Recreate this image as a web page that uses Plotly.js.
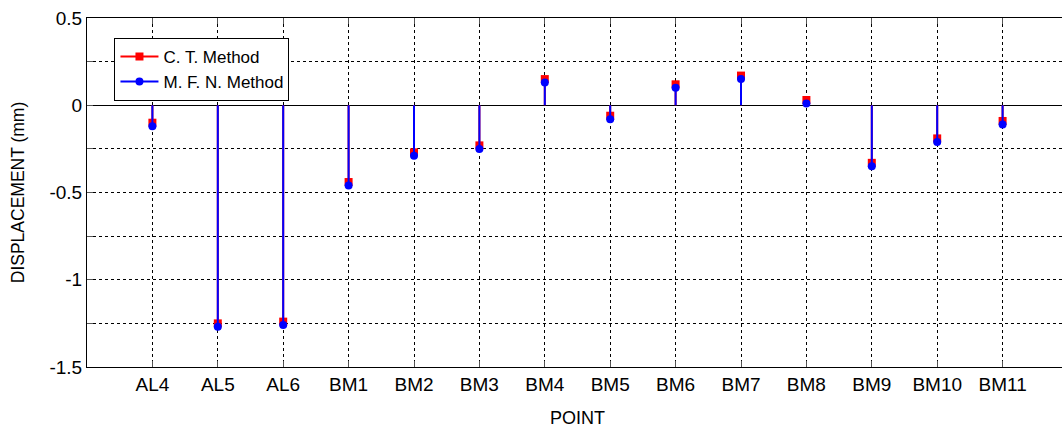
<!DOCTYPE html>
<html>
<head>
<meta charset="utf-8">
<script src="https://cdn.plot.ly/plotly-3.0.1.min.js"></script>
<style>
html,body{margin:0;padding:0;overflow:hidden;background:#fff;}
#chart{width:1072px;height:428px;}
</style>
</head>
<body>
<div id="chart"></div>
<script>
const points = ["AL4","AL5","AL6","BM1","BM2","BM3","BM4","BM5","BM6","BM7","BM8","BM9","BM10","BM11"];
const ctMethod = [-0.10,-1.25,-1.24,-0.44,-0.27,-0.23,0.15,-0.06,0.12,0.17,0.03,-0.33,-0.19,-0.09];
const mfnMethod = [-0.12,-1.27,-1.26,-0.46,-0.29,-0.25,0.13,-0.08,0.10,0.15,0.01,-0.35,-0.21,-0.11];
const seriesNames = ["C. T. Method","M. F. N. Method"];

const xs = points.map((p,i)=>i+1);

function stemXY(vals){
  const x=[], y=[];
  vals.forEach((v,i)=>{ x.push(xs[i],xs[i],null); y.push(0,v,null); });
  return {x,y};
}

const s1 = stemXY(ctMethod), s2 = stemXY(mfnMethod);
const red = '#ff0000', blue = '#0000ff';

const traces = [
  {x:s1.x,y:s1.y,mode:'lines',line:{color:red,width:2},showlegend:false,hoverinfo:'skip'},
  {x:xs,y:ctMethod,mode:'markers',marker:{symbol:'square',size:8,color:red},showlegend:false},
  {x:s2.x,y:s2.y,mode:'lines',line:{color:blue,width:2},showlegend:false,hoverinfo:'skip'},
  {x:xs,y:mfnMethod,mode:'markers',marker:{symbol:'circle',size:8,color:blue},showlegend:false},
  {x:[null],y:[null],mode:'lines+markers',name:seriesNames[0],line:{color:red,width:2},marker:{symbol:'square',size:8,color:red}},
  {x:[null],y:[null],mode:'lines+markers',name:seriesNames[1],line:{color:blue,width:2},marker:{symbol:'circle',size:8,color:blue}}
];

const layout = {
  width:1072, height:428,
  margin:{l:87,r:4,t:18,b:61},
  paper_bgcolor:'#fff', plot_bgcolor:'#fff',
  font:{family:'Liberation Sans, Arial, sans-serif',color:'#000'},
  showlegend:true,
  legend:{x:0.028,y:0.943,xanchor:'left',yanchor:'top',bgcolor:'#fff',bordercolor:'#000',borderwidth:1,
          font:{size:17,color:'#000'},tracegroupgap:0,itemwidth:38},
  xaxis:{
    range:[0,15], tickmode:'array', tickvals:xs, ticktext:points,
    showgrid:true, gridcolor:'#000', griddash:'3px,3px', gridwidth:1,
    showline:true, linecolor:'#000', linewidth:1, mirror:'ticks',
    ticks:'inside', ticklen:6, tickcolor:'#555', tickfont:{size:19,color:'#000'},
    zeroline:false,
    title:{text:'POINT',font:{size:18,color:'#000'},standoff:18}
  },
  yaxis:{
    range:[-1.5,0.5], tickmode:'array', tickvals:[-1.5,-1,-0.5,0,0.5], ticktext:['-1.5','-1','-0.5','0','0.5'],
    showgrid:true, gridcolor:'#000', griddash:'3px,3px', gridwidth:1,
    minor:{tickmode:'array',tickvals:[-1.25,-0.75,-0.25,0.25],showgrid:true,gridcolor:'#000',griddash:'3px,3px',gridwidth:1,ticks:'inside',ticklen:6,tickcolor:'#555'},
    showline:true, linecolor:'#000', linewidth:1, mirror:'ticks',
    ticks:'inside', ticklen:6, tickcolor:'#555', tickfont:{size:19,color:'#000'},
    zeroline:true, zerolinecolor:'#000', zerolinewidth:1,
    title:{text:'DISPLACEMENT (mm)',font:{size:17.5,color:'#000'},standoff:20}
  }
};

Plotly.newPlot('chart',traces,layout,{staticPlot:true,displayModeBar:false});
</script>
</body>
</html>
